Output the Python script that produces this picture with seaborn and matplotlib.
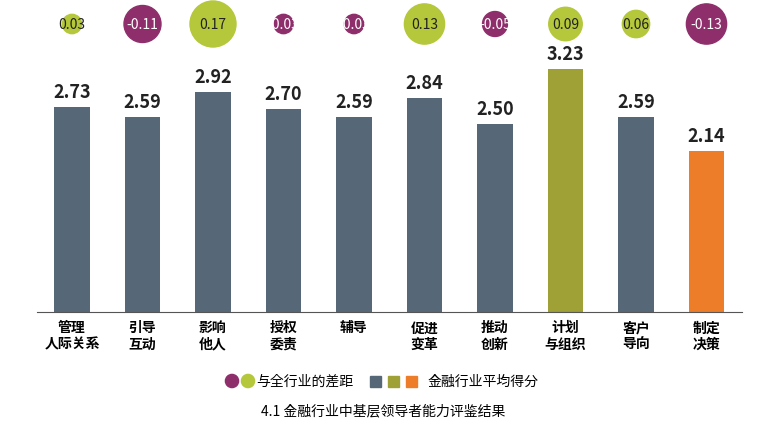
import matplotlib
matplotlib.use("Agg")
import matplotlib.pyplot as plt
from matplotlib import font_manager as fm
import seaborn as sns
import pandas as pd
import numpy as np

cjk_name = None
for f in fm.findSystemFonts():
    if "CJK" in f and ("SC" in f or "ttc" in f.lower()):
        try:
            fm.fontManager.addfont(f)
        except Exception:
            pass
names = sorted({e.name for e in fm.fontManager.ttflist if "CJK" in e.name})
for pref in ["Noto Sans CJK SC", "Noto Sans CJK JP", "Noto Sans CJK TC", "Noto Sans CJK KR"]:
    if pref in names:
        cjk_name = pref; break
if cjk_name is None and names:
    cjk_name = names[0]
plt.rcParams["font.family"] = [cjk_name or "DejaVu Sans", "DejaVu Sans"]

categories = ["管理\n人际关系", "引导\n互动", "影响\n他人", "授权\n委责", "辅导", "促进\n变革", "推动\n创新", "计划\n与组织", "客户\n导向", "制定\n决策"]
scores = [2.73, 2.59, 2.92, 2.70, 2.59, 2.84, 2.50, 3.23, 2.59, 2.14]
gaps = [0.03, -0.11, 0.17, -0.03, -0.03, 0.13, -0.05, 0.09, 0.06, -0.13]
gap_labels = ["0.03", "-0.11", "0.17", "-0.03", "-0.03", "0.13", "-0.05", "0.09", "0.06", "-0.13"]

GRAY, OLIVE, ORANGE = "#566878", "#9fa035", "#ee7d2a"
GREEN, PURPLE = "#b5c73a", "#8e2f6b"
bar_colors = [GRAY]*7 + [OLIVE, GRAY, ORANGE]

W, H = 767, 435
fig = plt.figure(figsize=(W/100, H/100), dpi=100)
def px(x0, y0, x1, y1):
    return [x0/W, 1-y1/H, (x1-x0)/W, (y1-y0)/H]

df = pd.DataFrame({"cat": categories, "score": scores})
ax = fig.add_axes(px(36.75, 40, 741.75, 313))
sns.barplot(data=df, x="cat", y="score", hue="cat", palette=bar_colors, legend=False, width=0.5, ax=ax, saturation=1)
ax.set_ylim(0, 3.63)
ax.set_xlim(-0.5, 9.5)
for i, v in enumerate(scores):
    ax.text(i, v + 0.08, f"{v:.2f}", ha="center", va="bottom", fontsize=13, fontweight="bold", color="#222222")
ax.set_yticks([])
ax.set_xlabel(""); ax.set_ylabel("")
ax.tick_params(axis="x", length=0, labelsize=10, pad=6)
for lab in ax.get_xticklabels():
    lab.set_fontweight("bold")
for s in ["top", "right", "left"]:
    ax.spines[s].set_visible(False)
ax.spines["bottom"].set_color("#555555")

# bubbles
bx = fig.add_axes(px(36.75, 0, 741.75, 50))
bx.set_xlim(-0.5, 9.5); bx.set_ylim(0, 1); bx.axis("off")
d_px = 46*np.sqrt(np.abs(gaps)/0.17)
sizes = (d_px*0.72)**2
bx.scatter(range(10), [0.5]*10, s=sizes, c=[GREEN if g > 0 else PURPLE for g in gaps], zorder=2)
for i, t in enumerate(gap_labels):
    bx.text(i, 0.5, t, ha="center", va="center", fontsize=10,
            color="#222222" if gaps[i] > 0 else "white", zorder=3)

# legend + caption
lx = fig.add_axes([0, 0, 1, 1]); lx.set_xlim(0, W); lx.set_ylim(H, 0); lx.axis("off")
lx.scatter([232, 248], [382, 382], s=90, c=[PURPLE, GREEN])
lx.text(256, 382, "与全行业的差距", va="center", fontsize=10)
for x, c in zip([375, 393, 411], [GRAY, OLIVE, ORANGE]):
    lx.add_patch(plt.Rectangle((x-5.5, 376.5), 11, 11, color=c))
lx.text(428, 382, "金融行业平均得分", va="center", fontsize=10)
lx.text(383, 411, "4.1 金融行业中基层领导者能力评鉴结果", ha="center", va="center", fontsize=10)

fig.savefig("out.png", dpi=100)
